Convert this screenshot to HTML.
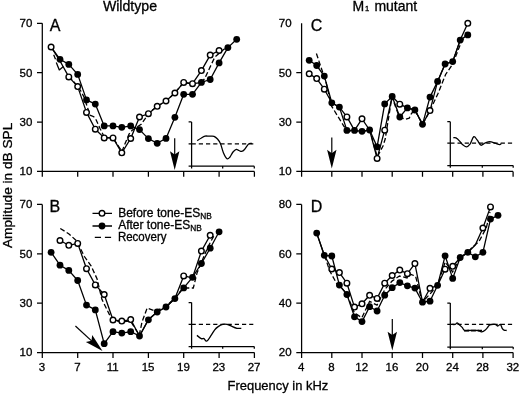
<!DOCTYPE html>
<html><head><meta charset="utf-8"><title>Figure</title>
<style>
html,body{margin:0;padding:0;background:#fff}
svg{display:block}
text{font-family:"Liberation Sans",Arial,sans-serif;fill:#000;stroke:#000;stroke-width:0.3px}
.ax{fill:none;stroke:#000;stroke-width:1.25}
.ln{fill:none;stroke:#000;stroke-width:1.3;stroke-linejoin:round}
.dl{fill:none;stroke:#000;stroke-width:1.3;stroke-dasharray:5 2.5}
.idl{fill:none;stroke:#000;stroke-width:1.3;stroke-dasharray:4.2 3}
.ic{fill:none;stroke:#000;stroke-width:1.3}
.fc{fill:#000;stroke:none}
.oc{fill:#fff;stroke:#000;stroke-width:1.4}
.ar{fill:none;stroke:#000;stroke-width:1.2}
.ah{fill:#000;stroke:none}
.tk{font-size:11.5px}
.lg{font-size:12px}
.sub{font-size:8.3px}
.ti{font-size:14px}
.one{font-size:7.6px}
.pl{font-size:16px}
.al{font-size:13.1px}
</style></head><body>
<svg width="520" height="394" viewBox="0 0 520 394">
<rect width="520" height="394" fill="#fff"/>
<path d="M42.3 23.3 V171.4 H254.4 M42.3 23.3 h-5.3 M42.3 72.7 h-5.3 M42.3 122.1 h-5.3 M42.3 171.4 h-5.3 M42.3 171.4 v5.3 M77.7 171.4 v5.3 M113.0 171.4 v5.3 M148.4 171.4 v5.3 M183.7 171.4 v5.3 M219.1 171.4 v5.3 M254.4 171.4 v5.3" class="ax"/>
<text x="32.3" y="27.1" class="tk" text-anchor="end">70</text>
<text x="32.3" y="76.5" class="tk" text-anchor="end">50</text>
<text x="32.3" y="125.9" class="tk" text-anchor="end">30</text>
<text x="32.3" y="175.2" class="tk" text-anchor="end">10</text>
<path d="M42.3 204.4 V352.6 H254.4 M42.3 204.4 h-5.3 M42.3 253.8 h-5.3 M42.3 303.2 h-5.3 M42.3 352.6 h-5.3 M42.3 352.6 v5.3 M77.7 352.6 v5.3 M113.0 352.6 v5.3 M148.4 352.6 v5.3 M183.7 352.6 v5.3 M219.1 352.6 v5.3 M254.4 352.6 v5.3" class="ax"/>
<text x="32.3" y="208.2" class="tk" text-anchor="end">70</text>
<text x="32.3" y="257.6" class="tk" text-anchor="end">50</text>
<text x="32.3" y="307.0" class="tk" text-anchor="end">30</text>
<text x="32.3" y="356.4" class="tk" text-anchor="end">10</text>
<text x="42.0" y="371.1" class="tk" text-anchor="middle">3</text>
<text x="77.4" y="371.1" class="tk" text-anchor="middle">7</text>
<text x="112.7" y="371.1" class="tk" text-anchor="middle">11</text>
<text x="148.1" y="371.1" class="tk" text-anchor="middle">15</text>
<text x="183.4" y="371.1" class="tk" text-anchor="middle">19</text>
<text x="218.8" y="371.1" class="tk" text-anchor="middle">23</text>
<text x="254.1" y="371.1" class="tk" text-anchor="middle">27</text>
<path d="M301.6 23.3 V171.4 H513.1 M301.6 72.7 h-5.3 M301.6 122.1 h-5.3 M301.6 171.4 h-5.3 M301.6 171.4 v5.3 M331.8 171.4 v5.3 M362.0 171.4 v5.3 M392.2 171.4 v5.3 M422.5 171.4 v5.3 M452.7 171.4 v5.3 M482.9 171.4 v5.3 M513.1 171.4 v5.3" class="ax"/>
<text x="291.6" y="27.1" class="tk" text-anchor="end">70</text>
<text x="291.6" y="76.5" class="tk" text-anchor="end">50</text>
<text x="291.6" y="125.9" class="tk" text-anchor="end">30</text>
<text x="291.6" y="175.2" class="tk" text-anchor="end">10</text>
<path d="M301.6 204.4 V352.6 H513.1 M301.6 204.4 h-5.3 M301.6 253.8 h-5.3 M301.6 303.2 h-5.3 M301.6 352.6 h-5.3 M301.6 352.6 v5.3 M331.8 352.6 v5.3 M362.0 352.6 v5.3 M392.2 352.6 v5.3 M422.5 352.6 v5.3 M452.7 352.6 v5.3 M482.9 352.6 v5.3 M513.1 352.6 v5.3" class="ax"/>
<text x="291.6" y="208.2" class="tk" text-anchor="end">80</text>
<text x="291.6" y="257.6" class="tk" text-anchor="end">60</text>
<text x="291.6" y="307.0" class="tk" text-anchor="end">40</text>
<text x="291.6" y="356.4" class="tk" text-anchor="end">20</text>
<text x="301.3" y="371.1" class="tk" text-anchor="middle">4</text>
<text x="331.5" y="371.1" class="tk" text-anchor="middle">8</text>
<text x="361.7" y="371.1" class="tk" text-anchor="middle">12</text>
<text x="391.9" y="371.1" class="tk" text-anchor="middle">16</text>
<text x="422.2" y="371.1" class="tk" text-anchor="middle">20</text>
<text x="452.4" y="371.1" class="tk" text-anchor="middle">24</text>
<text x="482.6" y="371.1" class="tk" text-anchor="middle">28</text>
<text x="512.8" y="371.1" class="tk" text-anchor="middle">32</text>
<path d="M191.6 121.9 V166.2 H254.3 M191.6 121.9 h-3 M191.6 143.8 h-3 M191.6 166.2 h-3 M191.6 166.2 v2.2 M222.7 166.2 v2.2 M254.3 166.2 v2.2" class="ax"/>
<path d="M191.6 143.8 H253.3" class="idl"/>
<path d="M197.2 140.6 C197.8 140.2 199.7 138.9 201.0 138.2 C202.3 137.4 203.6 136.4 205.0 136.1 C206.4 135.8 208.0 136.2 209.5 136.2 C211.0 136.2 212.7 135.8 214.0 136.3 C215.3 136.8 216.4 137.8 217.5 139.0 C218.6 140.2 219.5 141.5 220.5 143.8 C221.5 146.1 222.4 150.5 223.5 153.0 C224.6 155.5 225.9 158.0 227.0 158.7 C228.1 159.4 229.0 158.1 230.0 157.0 C231.0 155.9 231.9 153.3 233.0 152.0 C234.1 150.7 235.3 149.6 236.3 149.3 C237.3 149.1 238.1 150.2 239.0 150.5 C239.9 150.8 240.6 151.6 241.5 151.4 C242.4 151.2 243.3 150.8 244.5 149.5 C245.7 148.2 247.3 144.9 248.6 143.9 C249.8 142.9 251.4 143.6 252.0 143.5" class="ic"/>
<path d="M191.6 302.6 V346.6 H254.3 M191.6 302.6 h-3 M191.6 324.4 h-3 M191.6 346.6 h-3 M191.6 346.6 v2.2 M222.7 346.6 v2.2 M254.3 346.6 v2.2" class="ax"/>
<path d="M191.6 324.4 H253.3" class="idl"/>
<path d="M196.9 335.4 C197.6 335.9 200.1 338.1 201.3 338.6 C202.5 339.1 203.1 338.2 204.0 338.6 C204.9 339.0 205.5 341.6 206.7 341.1 C207.9 340.6 209.8 337.3 211.1 335.4 C212.4 333.5 213.5 331.3 214.7 329.8 C215.9 328.3 216.9 327.5 218.2 326.6 C219.5 325.7 221.2 324.8 222.7 324.4 C224.2 324.0 225.6 324.1 227.1 324.4 C228.6 324.7 230.0 325.5 231.6 326.2 C233.2 326.9 235.3 327.9 236.9 328.3 C238.5 328.7 240.6 328.3 241.3 328.3" class="ic"/>
<path d="M450.3 121.7 V165.6 H513.2 M450.3 121.7 h-3 M450.3 143.2 h-3 M450.3 165.6 h-3 M450.3 165.6 v2.2 M482.3 165.6 v2.2 M513.2 165.6 v2.2" class="ax"/>
<path d="M450.3 143.2 H512.2" class="idl"/>
<path d="M453.3 137.6 C453.8 137.7 454.9 137.3 456.0 137.9 C457.1 138.5 458.6 140.0 459.6 141.1 C460.6 142.2 461.1 143.4 462.2 144.3 C463.3 145.2 465.0 146.9 466.3 146.8 C467.6 146.7 468.9 145.5 470.2 143.8 C471.4 142.1 472.6 137.3 473.8 136.7 C475.0 136.1 476.1 138.8 477.3 140.2 C478.5 141.6 479.6 144.8 480.9 145.2 C482.2 145.6 483.8 143.5 485.3 142.9 C486.8 142.3 488.2 141.6 489.8 141.6 C491.4 141.6 493.5 142.7 495.1 143.2 C496.7 143.7 498.6 144.6 499.6 144.7 C500.6 144.8 501.0 143.7 501.3 143.5" class="ic"/>
<path d="M450.3 303.0 V347.0 H513.2 M450.3 303.0 h-3 M450.3 324.4 h-3 M450.3 347.0 h-3 M450.3 347.0 v2.2 M482.3 347.0 v2.2 M513.2 347.0 v2.2" class="ax"/>
<path d="M450.3 324.4 H512.2" class="idl"/>
<path d="M451.6 324.4 C452.2 324.4 454.2 324.6 455.1 324.4 C456.0 324.2 456.4 322.9 457.2 323.0 C457.9 323.1 458.8 324.2 459.6 324.9 C460.4 325.6 461.4 326.5 462.2 327.4 C463.0 328.3 463.5 330.0 464.5 330.5 C465.5 331.0 466.1 330.5 468.4 330.5 C470.7 330.5 476.0 330.3 478.2 330.5 C480.4 330.7 480.6 332.0 481.8 331.9 C483.0 331.8 484.3 330.8 485.3 330.0 C486.3 329.2 486.9 328.3 487.6 327.4 C488.4 326.5 488.6 325.3 489.8 324.8 C491.1 324.3 493.8 324.2 495.1 324.4 C496.4 324.6 496.9 326.0 497.8 326.0 C498.7 326.0 499.7 324.0 500.4 324.4 C501.1 324.8 501.6 327.4 502.2 328.3 C502.8 329.2 503.2 329.7 504.0 330.1 C504.8 330.5 506.2 330.4 506.7 330.5" class="ic"/>
<path d="M68.8 76.0 L77.6 86.2 L80.5 90.5 L84.0 97.0 L88.0 109.0 L90.0 115.2 L93.8 116.7 L96.1 119.8 L99.9 128.2 L104.5 137.6 L113.0 138.0 L121.9 151.5 L125.2 143.3 L129.0 134.2 L132.0 130.4 L135.1 128.1 L141.2 124.3 L145.0 118.9 L148.1 113.8 L156.9 106.4 L165.9 101.2 L174.7 93.0 L183.6 82.6 L192.4 83.9 L201.5 82.5 L204.6 78.7 L214.7 57.3 L223.9 49.2 L227.9 47.8" class="dl"/>
<path d="M51.1 47.0 L60.0 59.3 L68.8 64.4 L77.7 74.4 L86.5 99.9 L95.3 104.1 L104.2 125.9 L113.0 125.9 L121.8 127.3 L130.7 125.9 L139.5 129.6 L148.4 138.6 L157.2 143.3 L166.0 138.4 L174.9 117.3 L183.7 94.3 L192.5 94.3 L201.4 82.4 L210.2 79.5 L219.1 62.9 L227.9 47.6 L236.7 39.3" class="ln"/>
<path d="M51.1 47.0 L60.0 61.0 L68.8 76.9 L77.7 86.6 L86.5 112.4 L95.3 129.2 L104.2 137.9 L113.0 137.9 L121.8 152.8 L130.7 138.5 L139.5 117.0 L148.4 113.7 L157.2 106.3 L166.0 101.0 L174.9 93.0 L183.7 82.4 L192.5 83.7 L201.4 70.6 L210.2 55.1 L219.1 50.5" class="ln"/>
<circle cx="60.0" cy="59.3" r="3.4" class="fc"/>
<circle cx="68.8" cy="64.4" r="3.4" class="fc"/>
<circle cx="77.7" cy="74.4" r="3.4" class="fc"/>
<circle cx="86.5" cy="99.9" r="3.4" class="fc"/>
<circle cx="95.3" cy="104.1" r="3.4" class="fc"/>
<circle cx="104.2" cy="125.9" r="3.4" class="fc"/>
<circle cx="113.0" cy="125.9" r="3.4" class="fc"/>
<circle cx="121.8" cy="127.3" r="3.4" class="fc"/>
<circle cx="130.7" cy="125.9" r="3.4" class="fc"/>
<circle cx="139.5" cy="129.6" r="3.4" class="fc"/>
<circle cx="148.4" cy="138.6" r="3.4" class="fc"/>
<circle cx="157.2" cy="143.3" r="3.4" class="fc"/>
<circle cx="166.0" cy="138.4" r="3.4" class="fc"/>
<circle cx="174.9" cy="117.3" r="3.4" class="fc"/>
<circle cx="183.7" cy="94.3" r="3.4" class="fc"/>
<circle cx="192.5" cy="94.3" r="3.4" class="fc"/>
<circle cx="201.4" cy="82.4" r="3.4" class="fc"/>
<circle cx="210.2" cy="79.5" r="3.4" class="fc"/>
<circle cx="219.1" cy="62.9" r="3.4" class="fc"/>
<circle cx="227.9" cy="47.6" r="3.4" class="fc"/>
<circle cx="236.7" cy="39.3" r="3.4" class="fc"/>
<circle cx="51.1" cy="47.0" r="2.8" class="oc"/>
<circle cx="68.8" cy="76.9" r="2.8" class="oc"/>
<circle cx="77.7" cy="86.6" r="2.8" class="oc"/>
<circle cx="86.5" cy="112.4" r="2.8" class="oc"/>
<circle cx="95.3" cy="129.2" r="2.8" class="oc"/>
<circle cx="104.2" cy="137.9" r="2.8" class="oc"/>
<circle cx="113.0" cy="137.9" r="2.8" class="oc"/>
<circle cx="121.8" cy="152.8" r="2.8" class="oc"/>
<circle cx="130.7" cy="138.5" r="2.8" class="oc"/>
<circle cx="139.5" cy="117.0" r="2.8" class="oc"/>
<circle cx="148.4" cy="113.7" r="2.8" class="oc"/>
<circle cx="157.2" cy="106.3" r="2.8" class="oc"/>
<circle cx="166.0" cy="101.0" r="2.8" class="oc"/>
<circle cx="174.9" cy="93.0" r="2.8" class="oc"/>
<circle cx="183.7" cy="82.4" r="2.8" class="oc"/>
<circle cx="192.5" cy="83.7" r="2.8" class="oc"/>
<circle cx="201.4" cy="70.6" r="2.8" class="oc"/>
<circle cx="210.2" cy="55.1" r="2.8" class="oc"/>
<circle cx="219.1" cy="50.5" r="2.8" class="oc"/>
<path d="M60.3 228.5 L69.0 233.9 L76.7 241.0 L84.4 256.5 L91.2 266.2 L97.0 278.7 L101.9 299.3 L110.5 316.7 L113.0 320.0 L121.5 322.0 L130.4 321.0 L139.3 335.0 L142.0 322.0 L147.2 308.0 L155.0 310.9 L165.4 307.0 L174.3 298.6 L183.1 288.0 L193.3 288.0 L197.1 272.7 L207.9 246.9 L213.7 236.2" class="dl"/>
<path d="M51.1 252.3 L60.0 265.2 L68.8 270.4 L77.7 280.5 L86.5 305.1 L95.3 309.9 L104.2 343.7 L113.0 331.7 L121.8 333.1 L130.7 331.7 L139.5 336.0 L148.4 319.8 L157.2 312.0 L166.0 307.0 L174.9 298.6 L183.7 287.9 L192.5 277.3 L201.4 263.5 L210.2 248.2 L219.1 231.8" class="ln"/>
<path d="M60.0 240.5 L68.8 245.3 L77.7 243.4 L86.5 268.7 L95.3 284.9 L104.2 294.5 L113.0 320.0 L121.8 321.1 L130.7 319.6 L139.5 336.0 L148.4 319.6 L157.2 312.0 L166.0 307.0 L174.9 298.6 L183.7 275.9 L192.5 277.8 L201.4 251.1 L210.2 235.3" class="ln"/>
<circle cx="51.1" cy="252.3" r="3.4" class="fc"/>
<circle cx="60.0" cy="265.2" r="3.4" class="fc"/>
<circle cx="68.8" cy="270.4" r="3.4" class="fc"/>
<circle cx="77.7" cy="280.5" r="3.4" class="fc"/>
<circle cx="86.5" cy="305.1" r="3.4" class="fc"/>
<circle cx="95.3" cy="309.9" r="3.4" class="fc"/>
<circle cx="104.2" cy="343.7" r="3.4" class="fc"/>
<circle cx="113.0" cy="331.7" r="3.4" class="fc"/>
<circle cx="121.8" cy="333.1" r="3.4" class="fc"/>
<circle cx="130.7" cy="331.7" r="3.4" class="fc"/>
<circle cx="139.5" cy="336.0" r="3.4" class="fc"/>
<circle cx="148.4" cy="319.8" r="3.4" class="fc"/>
<circle cx="157.2" cy="312.0" r="3.4" class="fc"/>
<circle cx="166.0" cy="307.0" r="3.4" class="fc"/>
<circle cx="174.9" cy="298.6" r="3.4" class="fc"/>
<circle cx="183.7" cy="287.9" r="3.4" class="fc"/>
<circle cx="192.5" cy="277.3" r="3.4" class="fc"/>
<circle cx="201.4" cy="263.5" r="3.4" class="fc"/>
<circle cx="210.2" cy="248.2" r="3.4" class="fc"/>
<circle cx="219.1" cy="231.8" r="3.4" class="fc"/>
<circle cx="60.0" cy="240.5" r="2.8" class="oc"/>
<circle cx="68.8" cy="245.3" r="2.8" class="oc"/>
<circle cx="77.7" cy="243.4" r="2.8" class="oc"/>
<circle cx="86.5" cy="268.7" r="2.8" class="oc"/>
<circle cx="95.3" cy="284.9" r="2.8" class="oc"/>
<circle cx="104.2" cy="294.5" r="2.8" class="oc"/>
<circle cx="113.0" cy="320.0" r="2.8" class="oc"/>
<circle cx="121.8" cy="321.1" r="2.8" class="oc"/>
<circle cx="130.7" cy="319.6" r="2.8" class="oc"/>
<circle cx="183.7" cy="275.9" r="2.8" class="oc"/>
<circle cx="201.4" cy="251.1" r="2.8" class="oc"/>
<circle cx="210.2" cy="235.3" r="2.8" class="oc"/>
<path d="M316.4 53.5 L320.3 65.1 L326.0 82.0 L331.6 106.2 L344.1 126.5 L348.0 131.0 L362.0 131.3 L370.0 130.5 L377.2 157.0 L383.0 146.0 L385.2 139.0 L387.8 122.7 L389.4 112.8 L391.9 97.0 L399.3 117.0 L405.4 119.4 L409.2 118.2 L411.5 113.5 L414.9 110.0 L422.5 124.3 L429.8 111.0 L437.9 93.8 L445.6 74.5 L452.7 64.2 L460.5 44.0 L466.0 34.0" class="dl"/>
<path d="M309.2 60.3 L316.7 65.5 L324.3 76.1 L331.8 102.8 L339.4 107.1 L346.9 130.4 L354.5 130.4 L362.0 131.3 L369.6 130.0 L377.1 146.8 L384.7 103.9 L392.2 96.5 L399.8 117.0 L407.4 107.9 L414.9 110.0 L422.5 124.3 L430.0 97.1 L437.6 81.4 L445.1 64.0 L452.7 61.6 L460.2 40.1 L467.8 34.9" class="ln"/>
<path d="M309.2 73.8 L316.7 78.6 L324.3 89.2 L331.8 102.8 L339.4 107.2 L346.9 116.9 L354.5 130.4 L362.0 118.8 L369.6 130.0 L377.1 158.4 L384.7 130.2 L392.2 96.5 L399.8 104.2 L407.4 107.9 L414.9 110.0 L422.5 124.3 L430.0 110.6 L437.6 81.4 L445.1 64.0 L452.7 61.6 L460.2 40.1 L467.8 23.3" class="ln"/>
<circle cx="309.2" cy="60.3" r="3.4" class="fc"/>
<circle cx="316.7" cy="65.5" r="3.4" class="fc"/>
<circle cx="324.3" cy="76.1" r="3.4" class="fc"/>
<circle cx="331.8" cy="102.8" r="3.4" class="fc"/>
<circle cx="339.4" cy="107.1" r="3.4" class="fc"/>
<circle cx="346.9" cy="130.4" r="3.4" class="fc"/>
<circle cx="354.5" cy="130.4" r="3.4" class="fc"/>
<circle cx="362.0" cy="131.3" r="3.4" class="fc"/>
<circle cx="369.6" cy="130.0" r="3.4" class="fc"/>
<circle cx="377.1" cy="146.8" r="3.4" class="fc"/>
<circle cx="384.7" cy="103.9" r="3.4" class="fc"/>
<circle cx="392.2" cy="96.5" r="3.4" class="fc"/>
<circle cx="399.8" cy="117.0" r="3.4" class="fc"/>
<circle cx="407.4" cy="107.9" r="3.4" class="fc"/>
<circle cx="414.9" cy="110.0" r="3.4" class="fc"/>
<circle cx="422.5" cy="124.3" r="3.4" class="fc"/>
<circle cx="430.0" cy="97.1" r="3.4" class="fc"/>
<circle cx="437.6" cy="81.4" r="3.4" class="fc"/>
<circle cx="445.1" cy="64.0" r="3.4" class="fc"/>
<circle cx="452.7" cy="61.6" r="3.4" class="fc"/>
<circle cx="460.2" cy="40.1" r="3.4" class="fc"/>
<circle cx="467.8" cy="34.9" r="3.4" class="fc"/>
<circle cx="309.2" cy="73.8" r="2.8" class="oc"/>
<circle cx="316.7" cy="78.6" r="2.8" class="oc"/>
<circle cx="324.3" cy="89.2" r="2.8" class="oc"/>
<circle cx="346.9" cy="116.9" r="2.8" class="oc"/>
<circle cx="362.0" cy="118.8" r="2.8" class="oc"/>
<circle cx="377.1" cy="158.4" r="2.8" class="oc"/>
<circle cx="384.7" cy="130.2" r="2.8" class="oc"/>
<circle cx="399.8" cy="104.2" r="2.8" class="oc"/>
<circle cx="430.0" cy="110.6" r="2.8" class="oc"/>
<circle cx="467.8" cy="23.3" r="2.8" class="oc"/>
<path d="M324.6 255.5 L329.6 270.7 L336.6 283.4 L339.2 285.5 L346.6 293.5 L354.4 312.9 L361.9 317.7 L369.6 301.3 L377.0 305.2 L384.7 289.7 L392.0 281.1 L399.5 276.0 L407.0 278.0 L410.7 274.3 L415.6 276.2 L422.2 302.0 L430.0 294.0 L437.5 285.4 L445.2 262.0 L452.6 272.0 L460.2 257.6 L467.8 252.4 L472.3 247.0 L478.7 242.0 L486.3 228.0 L490.0 212.0" class="dl"/>
<path d="M316.7 233.1 L324.3 255.3 L331.8 256.0 L339.4 285.1 L346.9 294.5 L354.5 316.8 L362.0 321.6 L369.6 306.7 L377.1 311.0 L384.7 295.2 L392.2 287.7 L399.8 282.6 L407.4 285.8 L414.9 288.1 L422.5 302.2 L430.0 301.2 L437.6 285.3 L445.1 255.8 L452.7 278.4 L460.2 257.5 L467.8 252.3 L475.3 256.8 L482.9 252.3 L490.5 219.1 L498.0 215.3" class="ln"/>
<path d="M316.7 233.1 L324.3 255.3 L331.8 269.0 L339.4 272.6 L346.9 283.2 L354.5 307.1 L362.0 303.8 L369.6 295.3 L377.1 298.4 L384.7 283.2 L392.2 275.5 L399.8 270.1 L407.4 273.7 L414.9 263.6 L422.5 302.2 L430.0 288.3 L437.6 285.4 L445.1 269.2 L452.7 266.3 L460.2 257.8 L467.8 252.5 L475.3 245.0 L482.9 228.0 L490.5 206.9" class="ln"/>
<circle cx="316.7" cy="233.1" r="3.4" class="fc"/>
<circle cx="324.3" cy="255.3" r="3.4" class="fc"/>
<circle cx="331.8" cy="256.0" r="3.4" class="fc"/>
<circle cx="339.4" cy="285.1" r="3.4" class="fc"/>
<circle cx="346.9" cy="294.5" r="3.4" class="fc"/>
<circle cx="354.5" cy="316.8" r="3.4" class="fc"/>
<circle cx="362.0" cy="321.6" r="3.4" class="fc"/>
<circle cx="369.6" cy="306.7" r="3.4" class="fc"/>
<circle cx="377.1" cy="311.0" r="3.4" class="fc"/>
<circle cx="384.7" cy="295.2" r="3.4" class="fc"/>
<circle cx="392.2" cy="287.7" r="3.4" class="fc"/>
<circle cx="399.8" cy="282.6" r="3.4" class="fc"/>
<circle cx="407.4" cy="285.8" r="3.4" class="fc"/>
<circle cx="414.9" cy="288.1" r="3.4" class="fc"/>
<circle cx="422.5" cy="302.2" r="3.4" class="fc"/>
<circle cx="430.0" cy="301.2" r="3.4" class="fc"/>
<circle cx="437.6" cy="285.3" r="3.4" class="fc"/>
<circle cx="445.1" cy="255.8" r="3.4" class="fc"/>
<circle cx="452.7" cy="278.4" r="3.4" class="fc"/>
<circle cx="460.2" cy="257.5" r="3.4" class="fc"/>
<circle cx="467.8" cy="252.3" r="3.4" class="fc"/>
<circle cx="475.3" cy="256.8" r="3.4" class="fc"/>
<circle cx="482.9" cy="252.3" r="3.4" class="fc"/>
<circle cx="490.5" cy="219.1" r="3.4" class="fc"/>
<circle cx="498.0" cy="215.3" r="3.4" class="fc"/>
<circle cx="331.8" cy="269.0" r="2.8" class="oc"/>
<circle cx="339.4" cy="272.6" r="2.8" class="oc"/>
<circle cx="346.9" cy="283.2" r="2.8" class="oc"/>
<circle cx="354.5" cy="307.1" r="2.8" class="oc"/>
<circle cx="362.0" cy="303.8" r="2.8" class="oc"/>
<circle cx="369.6" cy="295.3" r="2.8" class="oc"/>
<circle cx="377.1" cy="298.4" r="2.8" class="oc"/>
<circle cx="384.7" cy="283.2" r="2.8" class="oc"/>
<circle cx="392.2" cy="275.5" r="2.8" class="oc"/>
<circle cx="399.8" cy="270.1" r="2.8" class="oc"/>
<circle cx="407.4" cy="273.7" r="2.8" class="oc"/>
<circle cx="414.9" cy="263.6" r="2.8" class="oc"/>
<circle cx="430.0" cy="288.3" r="2.8" class="oc"/>
<circle cx="445.1" cy="269.2" r="2.8" class="oc"/>
<circle cx="452.7" cy="266.3" r="2.8" class="oc"/>
<circle cx="482.9" cy="228.0" r="2.8" class="oc"/>
<circle cx="490.5" cy="206.9" r="2.8" class="oc"/>
<path d="M53.7 54.8 L55.5 59.2 M56.3 62.6 L59.3 69.9 L63.4 66.4" class="ln"/>
<path d="M464 330.6 H482" style="fill:none;stroke:#000;stroke-width:1.9;stroke-dasharray:5 1.9"/>
<path d="M174.7 138.2 V155.6" class="ar"/><path d="M174.7 170.0 L170.0 151.2 L174.7 154.6 L179.4 151.2 Z" class="ah"/>
<path d="M331.8 137.4 V154.2" class="ar"/><path d="M331.8 168.6 L327.1 149.8 L331.8 153.2 L336.5 149.8 Z" class="ah"/>
<path d="M392.3 319.1 V336.1" class="ar"/><path d="M392.3 350.5 L387.6 331.7 L392.3 335.1 L397.0 331.7 Z" class="ah"/>
<g transform="translate(102.5 350.9) rotate(-47.4)"><path d="M0 -36.8 V-13" class="ar"/><path d="M0 0 L-4.7 -18.3 L0 -15 L4.7 -18.3 Z" class="ah"/></g>
<path d="M92.5 213.3 H112 M92.5 226 H112" class="ln"/>
<path d="M94.8 237.4 h6.2 M104.9 237.4 h6.2" class="ln"/>
<circle cx="102" cy="213.3" r="2.8" class="oc"/><circle cx="102" cy="226" r="3.4" class="fc"/>
<text x="118.2" y="217" class="lg">Before tone-ES<tspan class="sub" dy="1.5">NB</tspan></text>
<text x="118.2" y="229.3" class="lg">After tone-ES<tspan class="sub" dy="1.5">NB</tspan></text>
<text x="117.9" y="241.1" class="lg" textLength="48.6" lengthAdjust="spacingAndGlyphs">Recovery</text>
<text x="102.9" y="10.6" class="ti" textLength="54.2" lengthAdjust="spacingAndGlyphs">Wildtype</text>
<text x="352.5" y="10.7" class="ti">M</text><text x="364.9" y="10.7" class="one">1</text><text x="374.4" y="10.7" class="ti">mutant</text>
<text x="49.7" y="31.1" class="pl">A</text>
<text x="49.5" y="211.9" class="pl">B</text>
<text x="310.7" y="31.3" class="pl">C</text>
<text x="310.8" y="212.2" class="pl">D</text>
<text x="227.6" y="390.3" class="al" textLength="100.6" lengthAdjust="spacingAndGlyphs">Frequency in kHz</text>
<text transform="translate(11.8 248) rotate(-90)" class="al" textLength="125.3" lengthAdjust="spacingAndGlyphs">Amplitude in dB SPL</text>
</svg>
</body></html>
